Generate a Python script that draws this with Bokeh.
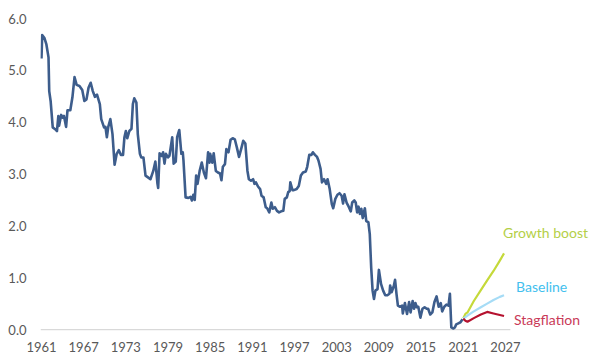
from bokeh.plotting import figure
from bokeh.models import FixedTicker, ColumnDataSource, CustomJSTickFormatter
from bokeh.core.properties import value
from bokeh.embed import file_html
from bokeh.resources import INLINE

hist_year = [1961.0, 1961.1, 1961.4, 1961.7, 1962.0, 1962.1, 1962.3, 1962.6, 1962.9, 1963.2,
             1963.4, 1963.5, 1963.8, 1964.0, 1964.2, 1964.5, 1964.7, 1965.1, 1965.4, 1965.7,
             1966.0, 1966.4, 1966.8, 1967.1, 1967.4, 1967.7, 1968.0, 1968.3, 1968.6, 1968.9,
             1969.3, 1969.5, 1969.9, 1970.1, 1970.3, 1970.5, 1970.8, 1971.1, 1971.4, 1971.7,
             1972.0, 1972.3, 1972.6, 1972.8, 1973.0, 1973.2, 1973.5, 1973.8, 1974.0, 1974.2,
             1974.5, 1974.7, 1975.0, 1975.2, 1975.5, 1975.8, 1976.2, 1976.5, 1976.9, 1977.2,
             1977.5, 1977.6, 1977.8, 1978.1, 1978.3, 1978.5, 1978.7, 1979.0, 1979.2, 1979.6,
             1979.8, 1980.1, 1980.3, 1980.6, 1980.9, 1981.1, 1981.2, 1981.5, 1981.9, 1982.2,
             1982.4, 1982.6, 1982.8, 1983.0, 1983.2, 1983.5, 1983.8, 1984.1, 1984.4, 1984.7,
             1984.9, 1985.0, 1985.3, 1985.5, 1985.8, 1986.1, 1986.4, 1986.6, 1986.8, 1987.1,
             1987.3, 1987.6, 1987.9, 1988.2, 1988.5, 1988.8, 1989.1, 1989.4, 1989.7, 1990.0,
             1990.3, 1990.5, 1990.8, 1991.1, 1991.3, 1991.5, 1991.8, 1992.1, 1992.3, 1992.6,
             1992.9, 1993.1, 1993.4, 1993.7, 1993.9, 1994.2, 1994.5, 1994.8, 1995.1, 1995.4,
             1995.6, 1995.9, 1996.1, 1996.3, 1996.4, 1996.7, 1996.9, 1997.3, 1997.6, 1997.9,
             1998.2, 1998.6, 1998.8, 1999.1, 1999.4, 1999.6, 1999.9, 2000.2, 2000.4, 2000.7,
             2000.9, 2001.2, 2001.5, 2001.7, 2002.0, 2002.3, 2002.5, 2002.8, 2003.1, 2003.4,
             2003.7, 2003.9, 2004.1, 2004.4, 2004.7, 2005.0, 2005.2, 2005.5, 2005.7, 2005.9,
             2006.1, 2006.3, 2006.5, 2006.7, 2006.8, 2007.0, 2007.2, 2007.5, 2007.7, 2007.9,
             2008.1, 2008.3, 2008.5, 2008.8, 2009.0, 2009.3, 2009.6, 2009.9, 2010.2, 2010.5,
             2010.6, 2010.8, 2011.1, 2011.3, 2011.5, 2011.7, 2012.0, 2012.3, 2012.4, 2012.7,
             2013.0, 2013.3, 2013.5, 2013.8, 2014.0, 2014.2, 2014.4, 2014.6, 2014.9, 2015.2,
             2015.5, 2015.8, 2016.0, 2016.3, 2016.6, 2016.9, 2017.2, 2017.5, 2017.8, 2018.0,
             2018.3, 2018.6, 2018.9, 2019.1, 2019.3, 2019.6, 2019.8, 2020.0, 2020.3, 2020.6,
             2020.9]
hist_value = [5.23, 5.68, 5.63, 5.50, 5.25, 4.60, 4.41, 3.90, 3.87, 3.83,
              4.12, 3.93, 4.14, 4.09, 4.12, 3.91, 4.23, 4.23, 4.48, 4.87,
              4.72, 4.70, 4.62, 4.41, 4.44, 4.67, 4.76, 4.60, 4.49, 4.53,
              4.35, 4.06, 3.90, 3.91, 3.71, 3.91, 4.06, 3.77, 3.18, 3.39,
              3.46, 3.37, 3.37, 3.71, 3.83, 3.69, 3.83, 3.87, 4.35, 4.46,
              4.38, 3.77, 3.39, 3.32, 3.32, 2.97, 2.93, 2.90, 3.06, 3.24,
              2.81, 2.73, 3.40, 3.35, 3.42, 3.20, 3.39, 3.32, 3.35, 3.71,
              3.20, 3.24, 3.71, 3.85, 3.39, 3.42, 3.26, 2.55, 2.54, 2.56,
              2.49, 2.60, 2.50, 2.97, 2.81, 3.06, 3.22, 3.03, 2.92, 3.42,
              3.22, 3.39, 3.22, 3.40, 3.06, 3.03, 3.01, 2.88, 3.14, 3.19,
              3.48, 3.42, 3.66, 3.69, 3.67, 3.51, 3.33, 3.48, 3.64, 3.59,
              3.06, 2.90, 2.87, 2.90, 2.81, 2.84, 2.76, 2.71, 2.58, 2.55,
              2.36, 2.34, 2.26, 2.45, 2.33, 2.36, 2.29, 2.26, 2.28, 2.29,
              2.52, 2.55, 2.65, 2.67, 2.84, 2.69, 2.69, 2.71, 2.77, 2.97,
              3.03, 3.05, 3.14, 3.37, 3.37, 3.42, 3.37, 3.33, 3.26, 3.10,
              2.84, 2.90, 2.81, 2.90, 2.71, 2.42, 2.34, 2.52, 2.60, 2.63,
              2.58, 2.43, 2.61, 2.45, 2.37, 2.28, 2.45, 2.49, 2.45, 2.26,
              2.37, 2.23, 2.33, 2.15, 2.23, 2.34, 2.09, 2.07, 1.84, 1.20,
              0.75, 0.59, 0.75, 0.78, 1.15, 0.88, 0.75, 0.66, 0.66, 0.69,
              0.85, 0.72, 0.83, 0.96, 0.69, 0.46, 0.44, 0.46, 0.31, 0.51,
              0.30, 0.53, 0.33, 0.55, 0.40, 0.51, 0.43, 0.44, 0.23, 0.40,
              0.43, 0.40, 0.40, 0.29, 0.33, 0.53, 0.64, 0.44, 0.51, 0.35,
              0.44, 0.48, 0.46, 0.69, 0.04, 0.02, 0.04, 0.10, 0.12, 0.14,
              0.20]

scen_year = [2021.0, 2021.3, 2021.6, 2022.5, 2023.5, 2024.4, 2025.3, 2026.2, 2026.8]
growth_boost = [0.22, 0.30, 0.33, 0.55, 0.76, 0.95, 1.13, 1.33, 1.47]
baseline = [0.21, 0.24, 0.27, 0.35, 0.43, 0.50, 0.57, 0.63, 0.66]
stagflation = [0.21, 0.17, 0.15, 0.22, 0.29, 0.34, 0.31, 0.28, 0.26]

scenario_names = ["Growth boost", "Baseline", "Stagflation"]

x_ticks = [1961, 1967, 1973, 1979, 1985, 1991, 1997, 2003, 2009, 2015, 2021, 2027]
y_ticks = [0, 1, 2, 3, 4, 5, 6]

FONT = "Lato"
TICK_COLOR = "#595959"

x_start, x_end = 1960.86, 2039.81
axis_end = 2027.7

p = figure(width=595, height=360, output_backend="svg", toolbar_location=None,
           x_range=(x_start, x_end), y_range=(-0.038, 6.097),
           min_border_left=40, min_border_right=0, min_border_top=13, min_border_bottom=29)
p.outline_line_color = None
p.grid.grid_line_color = None
p.background_fill_color = "white"
p.border_fill_color = "white"

# zero baseline of the value axis
p.line([x_start, axis_end], [0, 0], line_color="#d9d9d9", line_width=1.2)

p.line(hist_year, hist_value, line_color="#3d5d8c", line_width=2.6, line_join="round")
p.line(scen_year, growth_boost, line_color="#c5d93a", line_width=2.2, line_join="round")
p.line(scen_year, baseline, line_color="#a6dcf6", line_width=2.2, line_join="round")
p.line(scen_year, stagflation, line_color="#b5122f", line_width=2.2, line_join="round")

labels = ColumnDataSource(dict(
    x=[scen_year[-1]] * 3,
    y=[growth_boost[-1], baseline[-1], stagflation[-1]],
    text=scenario_names,
    color=["#b4cf47", "#43c0ee", "#c93a58"],
    xo=[-1, 12, 10],
    yo=[-21, -9, 3],
))
p.text(x="x", y="y", text="text", text_color="color", x_offset="xo", y_offset="yo",
       source=labels, text_font=value(FONT), text_font_size="14px",
       text_align="left", text_baseline="middle")

p.xaxis.ticker = FixedTicker(ticks=x_ticks)
p.yaxis.ticker = FixedTicker(ticks=y_ticks)
p.yaxis.formatter = CustomJSTickFormatter(code="return tick.toFixed(1);")
for ax in (p.xaxis, p.yaxis):
    ax.axis_line_color = None
    ax.major_tick_line_color = None
    ax.minor_tick_line_color = None
    ax.major_tick_out = 0
    ax.major_tick_in = 0
    ax.minor_tick_out = 0
    ax.major_label_text_font = FONT
    ax.major_label_text_font_size = "13px"
    ax.major_label_text_color = TICK_COLOR
p.xaxis.major_label_standoff = 10
p.yaxis.major_label_standoff = 14

open("out.html", "w").write(file_html(p, INLINE))
